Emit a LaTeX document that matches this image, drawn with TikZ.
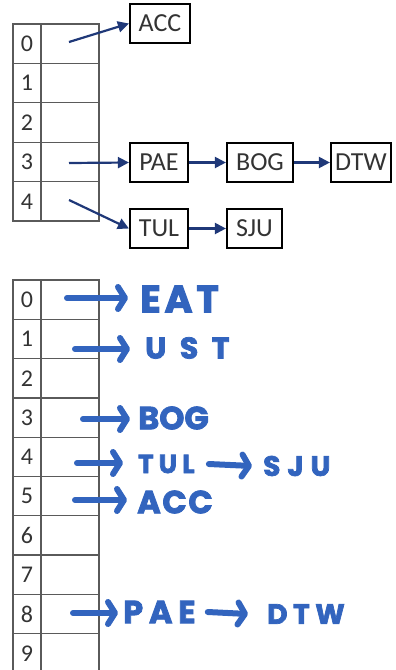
\documentclass[tikz,border=0pt]{standalone}
\usepackage{fontspec}
\setmainfont{Carlito}
\newfontfamily\hand{Poppins}[FakeBold=2.5]
\usetikzlibrary{arrows.meta}
\definecolor{navy}{RGB}{31,56,120}
\definecolor{ink}{RGB}{50,100,190}
\definecolor{gridc}{RGB}{90,90,90}
\begin{document}
\begin{tikzpicture}[x=1pt,y=-1pt,
  idx/.style={draw=gridc, line width=1.2pt, minimum width=28pt, minimum height=39.4pt,
    inner sep=0pt, text=black!80, font=\fontsize{24}{24}\selectfont},
  slot/.style={draw=gridc, line width=1.2pt, minimum width=58pt, minimum height=39.4pt,
    inner sep=0pt},
  keybox/.style={draw=black, line width=2.2pt, minimum height=39pt, minimum width=#1,
    inner sep=0pt, text=black!80, font=\fontsize{26}{26}\selectfont},
  link/.style={draw=navy, line width=2.2pt, -{Triangle[length=11pt,width=11pt]}},
  pen/.style={draw=ink, line width=6pt, line cap=round,
    -{Straight Barb[round,length=7pt,width=22pt]}},
  hw/.style 2 args={text=ink, anchor=west, inner sep=0pt,
    font=\hand\bfseries\fontsize{#1}{#1}\selectfont\addfontfeature{LetterSpace=#2}},
]
\useasboundingbox (0,0) rectangle (396,670);

% ---------- first table: 5 buckets ----------
\foreach \i in {0,...,4} {
  \node[idx]  (t\i) at (27, 24+19.7+39.4*\i) {\i};
  \node[slot] (ts\i) at (70, 24+19.7+39.4*\i) {};
}

% chained keys
\node[keybox=60pt] (ACC) at (160,23.5)  {ACC};
\node[keybox=58pt] (PAE) at (159,162.5) {PAE};
\node[keybox=66pt] (BOG) at (260,162.5) {BOG};
\node[keybox=60pt] (DTW) at (361,162.5) {DTW};
\node[keybox=58pt] (TUL) at (159,228.5) {TUL};
\node[keybox=55pt] (SJU) at (254.5,228.5) {SJU};

\coordinate (a0) at (69,42);
\coordinate (a3) at (69,163);
\coordinate (a4) at (69,200);
\draw[link] (a0) -- (ACC.west);
\draw[link] (a3) -- (PAE.west);
\draw[link] (a4) -- (TUL.west);
\draw[link] (PAE) -- (BOG);
\draw[link] (BOG) -- (DTW);
\draw[link] (TUL) -- (SJU);

% ---------- second table: 10 buckets ----------
\foreach \i in {0,...,9} {
  \node[idx]  (b\i) at (27, 280+19.65+39.3*\i) {\i};
  \node[slot] (bs\i) at (70, 280+19.65+39.3*\i) {};
}

% handwritten entries
\node[hw={38}{10}] (hEAT) at (140,299) {EAT};
\node[hw={30}{45}] (hUST) at (145,348) {UST};
\node[hw={32}{0}]  (hBOG) at (138,418) {BOG};
\node[hw={26}{20}] (hTUL) at (138,464) {TUL};
\node[hw={28}{25}] (hSJU) at (263,466) {SJU};
\node[hw={32}{5}]  (hACC) at (137,502) {ACC};
\node[hw={32}{18}] (hPAE) at (123,612) {PAE};
\node[hw={28}{20}] (hDTW) at (267,614) {DTW};

\coordinate (p0) at (67,298);
\coordinate (p1) at (75,349);
\coordinate (p3) at (83,419);
\coordinate (p4) at (77,463);
\coordinate (p5) at (75,500);
\coordinate (p8) at (73,613);
\draw[pen] (p0) -- ([xshift=-12pt]p0 -| hEAT.west);
\draw[pen] (p1) -- ([xshift=-15pt]p1 -| hUST.west);
\draw[pen] (p3) -- ([xshift=-8pt]p3 -| hBOG.west);
\draw[pen] (p4) -- ([xshift=-15pt]p4 -| hTUL.west);
\draw[pen] (p5) -- ([xshift=-10pt]p5 -| hACC.west);
\draw[pen] (p8) -- ([xshift=-5pt]p8 -| hPAE.west);
\draw[pen] ([xshift=14pt]hTUL.east) -- ([xshift=-11pt]hSJU.west);
\draw[pen] ([xshift=12pt]hPAE.east) -- ([xshift=-19pt]hDTW.west);
\end{tikzpicture}
\end{document}
